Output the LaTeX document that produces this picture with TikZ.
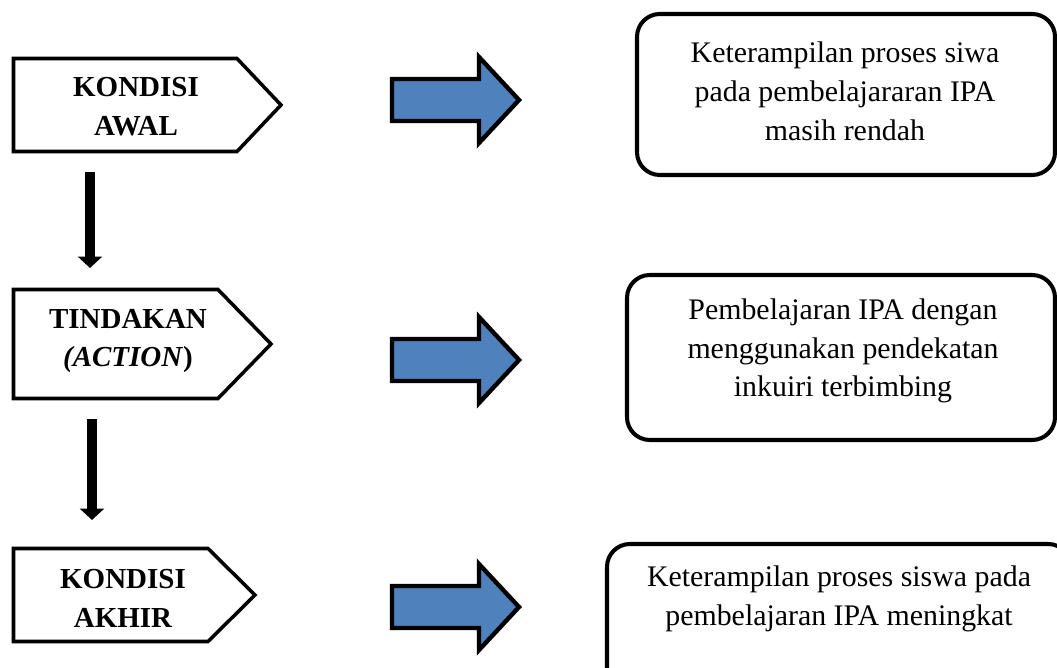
\documentclass[tikz,border=0pt]{standalone}
\usepackage{fontspec}
\setmainfont{Liberation Serif}
\usetikzlibrary{arrows.meta}
\definecolor{arrowblue}{HTML}{4F81BD}

\begin{document}
\begin{tikzpicture}[x=0.02cm,y=-0.02cm,
  tag/.style={draw,line width=2pt,line join=miter},
  tagtext/.style={align=center,font=\fontsize{16.5}{22.1}\selectfont\bfseries},
  blockarrow/.style={draw,fill=arrowblue,line width=2.5pt,line join=miter},
  roundbox/.style={draw,line width=2.3pt,rounded corners=13pt},
  boxtext/.style={align=center,font=\fontsize{17}{22.1}\selectfont},
  downarrow/.style={line width=5.7pt,-{Triangle[width=13.6pt,length=6.5pt]}}]
 \clip (0,0) rectangle (1057,668);
 \draw[tag] (13.5,58.5)--(237,58.5)--(281,105)--(237,151.5)--(13.5,151.5)--cycle;
 \draw[tag] (13.5,289.5)--(218,289.5)--(271,344)--(218,398.5)--(13.5,398.5)--cycle;
 \draw[tag] (13.5,548.5)--(208,548.5)--(255,595)--(208,641.5)--(13.5,641.5)--cycle;
 \node[tagtext] (awal) at (136,107) {KONDISI\\AWAL};
 \node[tagtext] (tindakan) at (128,341) {TINDAKAN\\\textit{(ACTION})};
 \node[tagtext] (akhir) at (123,598) {KONDISI\\AKHIR};
 \coordinate (d1) at (90,172);
 \coordinate (d2) at (90,268);
 \coordinate (d3) at (92,419);
 \coordinate (d4) at (92,520);
 \draw[downarrow] (d1)--(d2);
 \draw[downarrow] (d3)--(d4);
 \foreach \c in {100,360,607}{
  \draw[blockarrow] (392,\c-21)--(479,\c-21)--(479,\c-43)--(519,\c)--(479,\c+43)--(479,\c+21)--(392,\c+21)--cycle;}
 \draw[roundbox] (637,14) rectangle (1055,175);
 \draw[roundbox] (627,275) rectangle (1055,440);
 \draw[roundbox] (607,544) rectangle (1071,704);
 \node[boxtext] (rendah) at (845,91) {Keterampilan proses siwa\\pada pembelajararan IPA\\masih rendah};
 \node[boxtext] (inkuiri) at (843,351) {Pembelajaran IPA dengan\\menggunakan pendekatan\\inkuiri terbimbing};
 \node[boxtext] (meningkat) at (839,599) {Keterampilan proses siswa pada\\pembelajaran IPA meningkat};
\end{tikzpicture}
\end{document}
